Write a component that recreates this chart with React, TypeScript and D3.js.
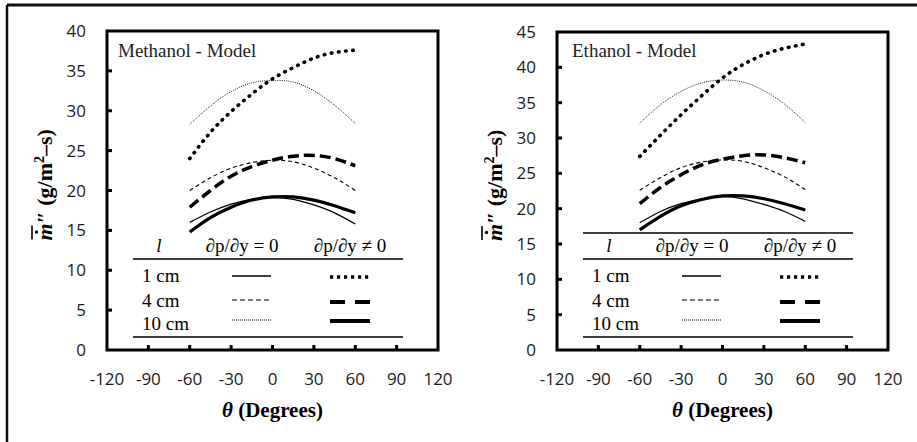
import React from "react";
import * as d3 from "d3";

// ---------- data ----------
const thetas = [-60, -45, -30, -15, 0, 15, 30, 45, 60];
const xTicks = [-120, -90, -60, -30, 0, 30, 60, 90, 120];
const methYTicks = [0, 5, 10, 15, 20, 25, 30, 35, 40];
const ethYTicks = [0, 5, 10, 15, 20, 25, 30, 35, 40, 45];

// Methanol - Model
const meth_1cm_eq0 = [16.0, 17.3, 18.3, 18.9, 19.1, 18.9, 18.2, 17.2, 15.8];
const meth_4cm_eq0 = [20.0, 21.6, 22.8, 23.5, 23.8, 23.6, 22.8, 21.6, 20.0];
const meth_10cm_eq0 = [28.3, 30.6, 32.4, 33.5, 33.8, 33.6, 32.5, 30.7, 28.4];
const meth_1cm_ne0 = [24.0, 27.3, 29.9, 32.1, 34.0, 35.4, 36.6, 37.3, 37.6];
const meth_4cm_ne0 = [17.9, 20.0, 21.8, 23.0, 23.8, 24.3, 24.4, 24.0, 23.1];
const meth_10cm_ne0 = [14.8, 16.6, 17.9, 18.8, 19.2, 19.2, 18.8, 18.1, 17.2];

// Ethanol - Model
const eth_1cm_eq0 = [18.0, 19.6, 20.7, 21.4, 21.7, 21.4, 20.6, 19.6, 18.2];
const eth_4cm_eq0 = [22.6, 24.4, 25.8, 26.6, 26.9, 26.7, 25.8, 24.5, 22.7];
const eth_10cm_eq0 = [32.1, 34.7, 36.6, 37.8, 38.2, 37.9, 36.7, 34.8, 32.2];
const eth_1cm_ne0 = [27.4, 30.4, 33.3, 36.0, 38.5, 40.4, 41.8, 42.7, 43.3];
const eth_4cm_ne0 = [20.7, 23.0, 24.8, 26.2, 27.0, 27.5, 27.6, 27.2, 26.5];
const eth_10cm_ne0 = [17.0, 18.9, 20.4, 21.3, 21.8, 21.8, 21.4, 20.7, 19.8];

const legendRows = ["1 cm", "4 cm", "10 cm"];
const legendHeaders = ["l", "\u2202p/\u2202y = 0", "\u2202p/\u2202y \u2260 0"];

// ---------- styles ----------
type Style = { w: number; dash?: string; cap?: "round" | "butt" };
const styles: Record<string, Style> = {
  "1cm_eq0": { w: 1.3 },
  "4cm_eq0": { w: 1.1, dash: "4,3" },
  "10cm_eq0": { w: 0.9, dash: "1,1.2" },
  "1cm_ne0": { w: 3.6, dash: "0.6,6.6", cap: "round" },
  "4cm_ne0": { w: 3.5, dash: "11,5" },
  "10cm_ne0": { w: 3.2 },
};
const legendStyles: Record<string, Style> = {
  "1cm_eq0": { w: 1.3 },
  "4cm_eq0": { w: 1.1, dash: "5,3" },
  "10cm_eq0": { w: 1.0, dash: "1,1" },
  "1cm_ne0": { w: 3.5, dash: "3.2,3.8" },
  "4cm_ne0": { w: 4, dash: "15,10" },
  "10cm_ne0": { w: 4 },
};

const SERIF = "'Liberation Serif', 'Times New Roman', serif";
const SANS = "'Open Sans', 'Liberation Sans', sans-serif";

type PanelProps = {
  left: number;
  top: number;
  right: number;
  bottom: number;
  yMax: number;
  yTicks: number[];
  title: string;
  titleDx: number;
  topRule: boolean;
  series: Record<string, number[]>;
};

function Panel(p: PanelProps) {
  const x = d3.scaleLinear().domain([-120, 120]).range([p.left, p.right]);
  const y = d3.scaleLinear().domain([0, p.yMax]).range([p.bottom, p.top]);
  const line = d3
    .line<[number, number]>()
    .x((d) => x(d[0]))
    .y((d) => y(d[1]))
    .curve(d3.curveNatural);
  const L = p.left;
  const yMid = (p.top + p.bottom) / 2;
  const rowY1 = [276, 300, 320];
  const rowY2 = [277, 302, 321];
  const keys = ["1cm", "4cm", "10cm"];
  return (
    <g>
      {/* curves */}
      {Object.entries(p.series).map(([k, vals]) => {
        const st = styles[k];
        const pts = thetas.map((t, i) => [t, vals[i]] as [number, number]);
        return (
          <path
            key={k}
            d={line(pts) || ""}
            fill="none"
            stroke="#000"
            strokeWidth={st.w}
            strokeDasharray={st.dash}
            strokeLinecap={st.cap || "butt"}
          />
        );
      })}
      {/* frame */}
      <rect
        x={p.left}
        y={p.top}
        width={p.right - p.left}
        height={p.bottom - p.top}
        fill="none"
        stroke="#000"
        strokeWidth={3}
      />
      {/* x ticks */}
      {xTicks.map((t) => (
        <g key={"xt" + t}>
          {t > -120 && t < 120 && (
            <line x1={x(t)} x2={x(t)} y1={p.bottom} y2={p.bottom - 5} stroke="#000" strokeWidth={3} />
          )}
          <text x={x(t)} y={385} textAnchor="middle" fontFamily={SANS} fontSize={17} fill="#1a1a1a">
            {t}
          </text>
        </g>
      ))}
      {/* y ticks */}
      {p.yTicks.map((v) => (
        <g key={"yt" + v}>
          {v > 0 && v < p.yMax && (
            <line x1={p.left} x2={p.left + 5} y1={y(v)} y2={y(v)} stroke="#000" strokeWidth={3} />
          )}
          <text x={p.left - 21} y={y(v)} dy="0.36em" textAnchor="end" fontFamily={SANS} fontSize={17} fill="#1a1a1a">
            {v}
          </text>
        </g>
      ))}
      {/* x title */}
      <text x={(p.left + p.right) / 2} y={417} textAnchor="middle" fontFamily={SERIF} fontWeight="bold" fontSize={21}>
        <tspan fontStyle="italic">θ</tspan> (Degrees)
      </text>
      {/* y title */}
      <g transform={`translate(${p.left - 55},${yMid + 50}) rotate(-90)`}>
        <text x={0} y={0} fontFamily={SERIF} fontWeight="bold" fontSize={22}>
          <tspan fontStyle="italic">m</tspan>
          <tspan>″ (g/m</tspan>
          <tspan fontSize={14} dy={-8}>2</tspan>
          <tspan dy={8}>–s)</tspan>
        </text>
        <line x1={1} x2={15} y1={-20} y2={-20} stroke="#000" strokeWidth={1.6} />
        <circle cx={8.5} cy={-15.5} r={1.7} fill="#000" />
      </g>
      {/* inner title */}
      <text x={p.left + p.titleDx} y={56.5} fontFamily={SERIF} fontSize={19} fill="#222">
        {p.title}
      </text>
      {/* legend table */}
      {p.topRule && <line x1={L + 26} x2={L + 296} y1={233} y2={233} stroke="#000" strokeWidth={1.3} />}
      <line x1={L + 26} x2={L + 296} y1={259} y2={259} stroke="#000" strokeWidth={1.3} />
      <line x1={L + 26} x2={L + 296} y1={337} y2={337} stroke="#000" strokeWidth={1.3} />
      <text x={L + 52} y={252} textAnchor="middle" fontFamily={SERIF} fontStyle="italic" fontSize={19}>
        {legendHeaders[0]}
      </text>
      <text x={L + 135} y={252} textAnchor="middle" fontFamily={SERIF} fontSize={19}>
        {legendHeaders[1]}
      </text>
      <text x={L + 243} y={252} textAnchor="middle" fontFamily={SERIF} fontSize={19}>
        {legendHeaders[2]}
      </text>
      {legendRows.map((r, i) => (
        <g key={r}>
          <text x={L + 35} y={[282, 307, 330][i]} fontFamily={SERIF} fontSize={19}>
            {r}
          </text>
          <line
            x1={L + 125}
            x2={L + 164}
            y1={rowY1[i]}
            y2={rowY1[i]}
            stroke="#000"
            strokeWidth={legendStyles[keys[i] + "_eq0"].w}
            strokeDasharray={legendStyles[keys[i] + "_eq0"].dash}
          />
          <line
            x1={L + 223}
            x2={L + 263}
            y1={rowY2[i]}
            y2={rowY2[i]}
            stroke="#000"
            strokeWidth={legendStyles[keys[i] + "_ne0"].w}
            strokeDasharray={legendStyles[keys[i] + "_ne0"].dash}
          />
        </g>
      ))}
    </g>
  );
}

export default function App() {
  return (
    <svg
      width={917}
      height={442}
      style={{ position: "absolute", left: 0, top: 0, background: "#fff" }}
    >
      <rect x={0} y={0} width={917} height={442} fill="#fff" />
      <line x1={7} x2={917} y1={5} y2={5} stroke="#111" strokeWidth={3} />
      <line x1={7} x2={7} y1={5} y2={442} stroke="#111" strokeWidth={2.5} />
      <Panel
        left={107}
        top={31}
        right={438}
        bottom={350}
        yMax={40}
        yTicks={methYTicks}
        title="Methanol - Model"
        titleDx={11}
        topRule={false}
        series={{
          "10cm_eq0": meth_10cm_eq0,
          "4cm_eq0": meth_4cm_eq0,
          "1cm_eq0": meth_1cm_eq0,
          "1cm_ne0": meth_1cm_ne0,
          "4cm_ne0": meth_4cm_ne0,
          "10cm_ne0": meth_10cm_ne0,
        }}
      />
      <Panel
        left={557}
        top={32}
        right={888}
        bottom={350}
        yMax={45}
        yTicks={ethYTicks}
        title="Ethanol - Model"
        titleDx={15}
        topRule={true}
        series={{
          "10cm_eq0": eth_10cm_eq0,
          "4cm_eq0": eth_4cm_eq0,
          "1cm_eq0": eth_1cm_eq0,
          "1cm_ne0": eth_1cm_ne0,
          "4cm_ne0": eth_4cm_ne0,
          "10cm_ne0": eth_10cm_ne0,
        }}
      />
    </svg>
  );
}
